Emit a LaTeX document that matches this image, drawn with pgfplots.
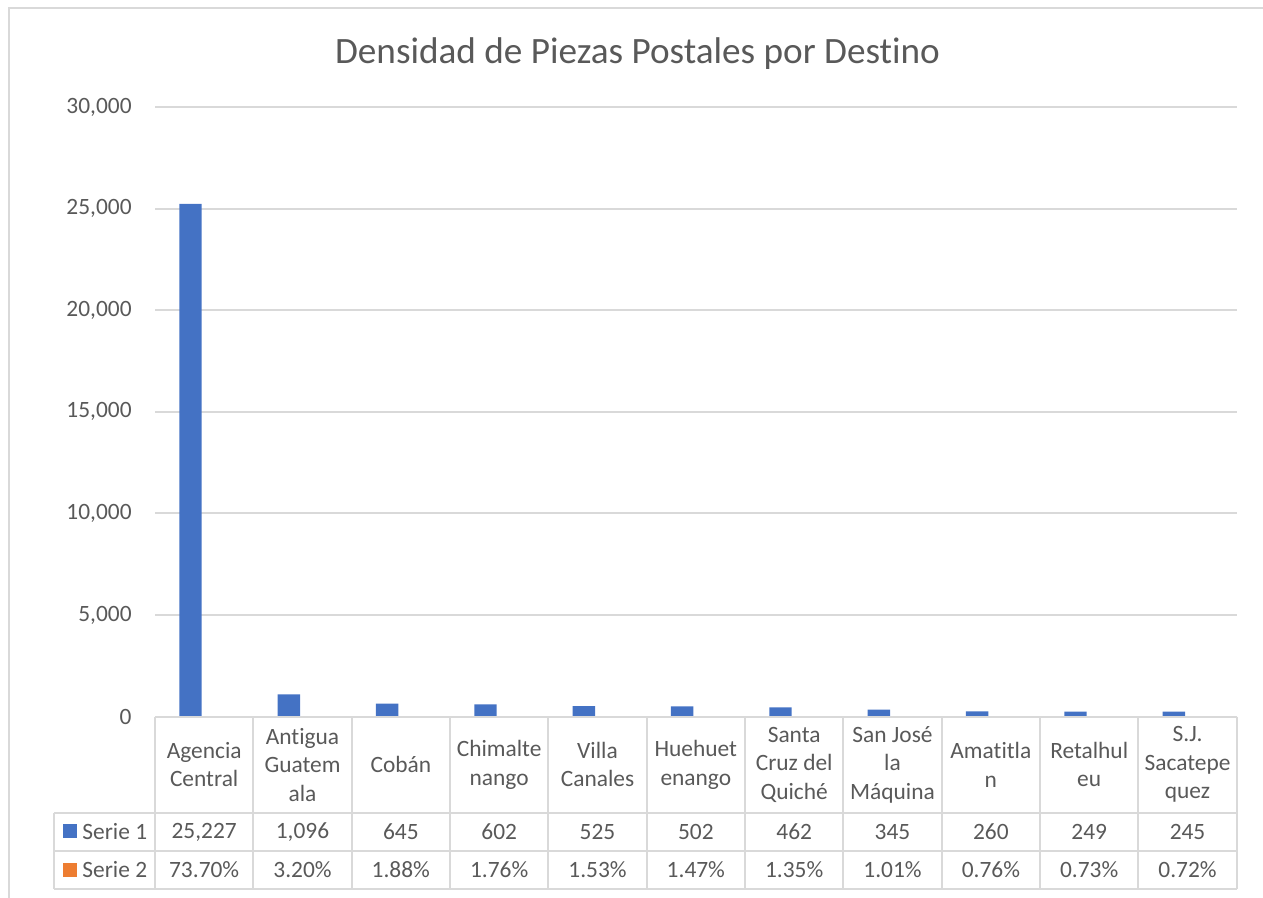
\documentclass[border=0pt]{standalone}
\usepackage{pgfplots}
\pgfplotsset{compat=1.18}
\usepackage{pgfplotstable}
\usepackage{fontspec}
\setmainfont{Carlito}[Ligatures=NoCommon]
\definecolor{s1}{HTML}{4472C4}
\definecolor{s2}{HTML}{ED7D31}
\definecolor{tg}{HTML}{595959}
\definecolor{gl}{HTML}{D9D9D9}

\pgfplotstableread{
x y1 y2
0 25227 73.70
1 1096 3.20
2 645 1.88
3 602 1.76
4 525 1.53
5 502 1.47
6 462 1.35
7 345 1.01
8 260 0.76
9 249 0.73
10 245 0.72
}\datatable

\newcommand{\tf}{\fontsize{11.7}{14.25}\selectfont}

\begin{document}
\begin{tikzpicture}[x=0.5pt,y=0.5pt]
\useasboundingbox (0,0) rectangle (1263,898);
\draw[gl, line width=1pt] (9,0) -- (9,890) -- (1263,890);
\node[anchor=base, text=tg, inner sep=0pt, font=\fontsize{18.6}{22}\selectfont] at (637.5,834) {Densidad de Piezas Postales por Destino};
\begin{axis}[
  at={(77.5pt,90.65pt)}, anchor=south west,
  scale only axis, width=540.85pt, height=304.85pt,
  xmin=-0.5, xmax=10.5, ymin=0, ymax=30000,
  clip=false,
  axis line style={draw=none},
  major tick length=0pt,
  ymajorgrids, grid style={gl, line width=1pt},
  ytick={0,5000,...,30000},
  scaled y ticks=false,
  /pgf/number format/1000 sep={,},
  /pgf/number format/assume math mode=true,
  yticklabel style={anchor=east, inner sep=0pt, xshift=-11.5pt, text=tg, font=\tf},
  xtick={0,...,10},
  xticklabels={{Agencia\\Central},{Antigua\\Guatem\\ala},{Cobán},{Chimalte\\nango},{Villa\\Canales},{Huehuet\\enango},{Santa\\Cruz del\\Quiché},{San José\\la\\Máquina},{Amatitla\\n},{Retalhul\\eu},{S.J.\\Sacatepe\\quez}},
  xticklabel style={align=center, anchor=center, inner sep=0pt, yshift=-24pt, text=tg, font=\tf},
]
\addplot[ybar, fill=s1, draw=none, bar width=11.2pt, bar shift=-6.85pt] table[x=x, y=y1] {\datatable};
\addplot[ybar, fill=s2, draw=none, bar width=11.2pt, bar shift=6.85pt] table[x=x, y expr=\thisrow{y2}/100] {\datatable};
\addplot[draw=none, mark=none, point meta=explicit, nodes near coords,
  nodes near coords style={anchor=center, inner sep=0pt, yshift=-57.65pt, text=tg, font=\tf}]
  table[x=x, y expr=0, meta=y1] {\datatable};
\addplot[draw=none, mark=none, point meta=explicit,
  nodes near coords={\pgfmathprintnumber[fixed, fixed zerofill, precision=2]{\pgfplotspointmeta}\%},
  nodes near coords style={anchor=center, inner sep=0pt, yshift=-76.65pt, text=tg, font=\tf}]
  table[x=x, y expr=0, meta=y2] {\datatable};
\end{axis}
% data table grid
\draw[gl, line width=1pt] (155,181.3) -- (1236.7,181.3);
\draw[gl, line width=1pt] (54,85.3) -- (1236.7,85.3);
\draw[gl, line width=1pt] (54,46.7) -- (1236.7,46.7);
\draw[gl, line width=1pt] (54,9) -- (1236.7,9);
\draw[gl, line width=1pt] (54,85.3) -- (54,9);
\foreach \i in {0,...,11} {
  \draw[gl, line width=1pt] ({155+98.336*\i},181.3) -- ({155+98.336*\i},9);
}
\fill[s1] (62.7,73.5) rectangle (76.7,59.5);
\fill[s2] (62.7,35) rectangle (76.7,21);
\node[anchor=west, inner sep=0pt, text=tg, font=\tf] at (82,66) {Serie 1};
\node[anchor=west, inner sep=0pt, text=tg, font=\tf] at (82,28) {Serie 2};
\end{tikzpicture}
\end{document}
